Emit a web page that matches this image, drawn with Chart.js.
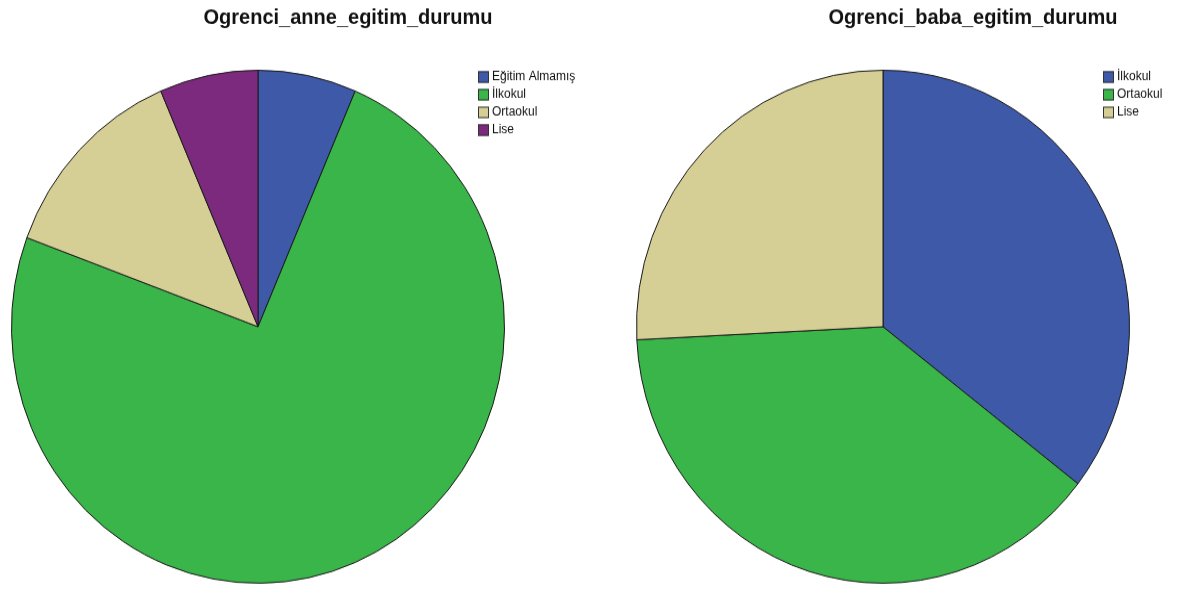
<!DOCTYPE html>
<html>
<head>
<meta charset="utf-8">
<script src="https://cdn.jsdelivr.net/npm/chart.js@4/dist/chart.umd.min.js"></script>
<style>
  html, body { margin: 0; padding: 0; background: #fff; overflow: hidden; }
  #wrap { position: relative; width: 1180px; height: 590px; }
  canvas { position: absolute; top: 0; }
</style>
</head>
<body>
<div id="wrap">
  <!-- drawn at 567px high and shown at 590px: the source pies are slightly taller than wide -->
  <canvas id="anne" width="696" height="567" style="left:0;width:696px;height:590px"></canvas>
  <canvas id="baba" width="696" height="567" style="left:622px;width:696px;height:590px"></canvas>
</div>
<script>
// values (counts, total 31)
const anneLabels = ['Eğitim Almamış', 'İlkokul', 'Ortaokul', 'Lise'];
const anneValues = [2, 23, 4, 2];
const anneColors = ['#3e59a8', '#3ab54a', '#d5cf96', '#7c2a7e'];

const babaLabels = ['İlkokul', 'Ortaokul', 'Lise'];
const babaValues = [11, 12, 8];
const babaColors = ['#3e59a8', '#3ab54a', '#d5cf96'];

// title a bit right of the pie, small legend inside the chart area top right
const spssDecor = {
  id: 'spssDecor',
  afterDraw(chart, args, opts) {
    const ctx = chart.ctx;
    const area = chart.chartArea;
    const ds = chart.data.datasets[0];

    ctx.save();
    ctx.fillStyle = '#111';
    ctx.font = 'bold 20px "Liberation Sans", Arial, sans-serif';
    ctx.textAlign = 'center';
    ctx.textBaseline = 'middle';
    ctx.fillText(opts.title, (area.left + area.right) / 2 + 90, 17);

    const x = area.right - 27;
    let y = area.top + 7;
    ctx.font = '12px "Liberation Sans", Arial, sans-serif';
    ctx.textAlign = 'left';
    chart.data.labels.forEach((lab, i) => {
      ctx.fillStyle = ds.backgroundColor[i];
      ctx.fillRect(x, y - 5.5, 11, 11);
      ctx.strokeStyle = '#333';
      ctx.lineWidth = 1;
      ctx.strokeRect(x + 0.5, y - 5, 10, 10);
      ctx.fillStyle = '#111';
      ctx.fillText(lab, x + 14, y);
      y += 17;
    });
    ctx.restore();
  }
};

const makePie = (id, title, labels, values, colors, padLeft, padRight) => {
  return new Chart(document.getElementById(id), {
    type: 'pie',
    data: {
      labels: labels,
      datasets: [{
        data: values,
        backgroundColor: colors,
        borderColor: '#1a1a1a',
        borderWidth: 1,
      }],
    },
    options: {
      responsive: false,
      animation: false,
      devicePixelRatio: 1,
      layout: { padding: { left: padLeft, right: padRight, top: 67, bottom: 6 } },
      plugins: {
        legend: { display: false },
        tooltip: { enabled: false },
        title: { display: false },
        spssDecor: { title: title },
      },
    },
    plugins: [spssDecor],
  });
};

makePie('anne', 'Ogrenci_anne_egitim_durumu', anneLabels, anneValues, anneColors, 11, 191);
makePie('baba', 'Ogrenci_baba_egitim_durumu', babaLabels, babaValues, babaColors, 14, 188);
</script>
</body>
</html>
